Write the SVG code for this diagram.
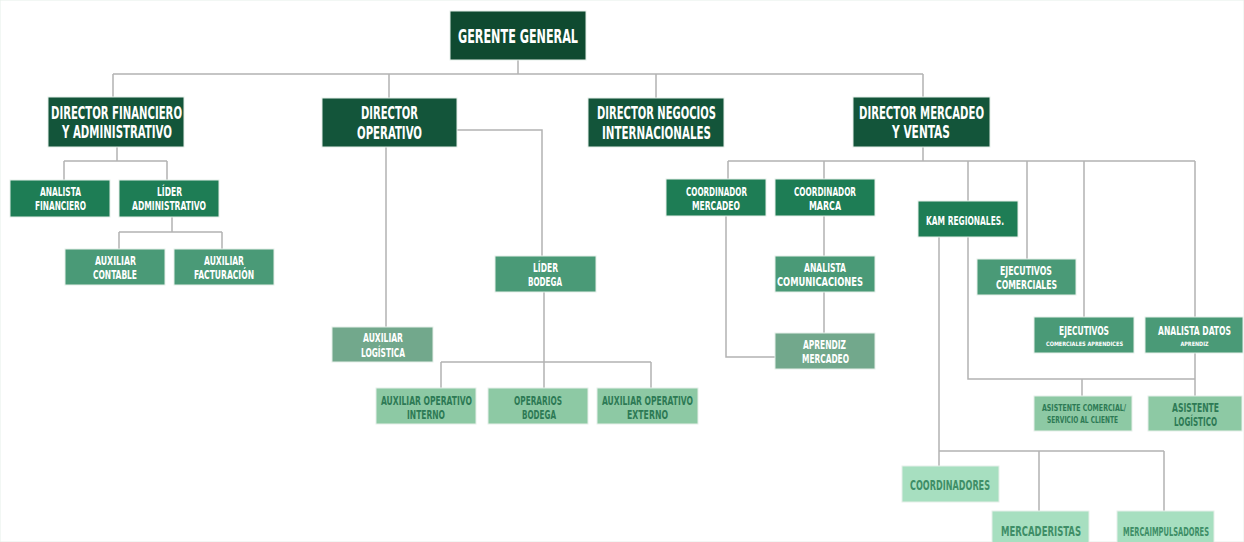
<svg xmlns="http://www.w3.org/2000/svg" width="1244" height="542" viewBox="0 0 1244 542">
<style>
text{font-family:"DejaVu Sans Condensed","DejaVu Sans","Liberation Sans",sans-serif;font-weight:bold;font-stretch:condensed;text-anchor:middle}
rect{stroke:#e6efe9;stroke-width:1}
.g0{fill:#0f4a30}.g1{fill:#13553a}.g2{fill:#1e7d55}.g3{fill:#4a9a77}.g4{fill:#72a88c}.g5{fill:#8dc9a4}.g6{fill:#a7dfc0}
.tw{fill:#ffffff}.t5{fill:#2d7a55}.t6{fill:#3e8e67}
.f19{font-size:19.5px}.f18{font-size:18px}.f13{font-size:13px}.f14{font-size:14.5px}.f135{font-size:13px}.f6{font-size:6px}.f10{font-size:9.5px}.f11{font-size:11.5px}
#connectors path{fill:none;stroke:#b3b3b3;stroke-width:1.5}
</style>
<rect x="0" y="0" width="1244" height="542" fill="#ffffff" stroke="none"/>
<g id="connectors">
<path d="M518,60 V74 M113,74 H923 M113,74 V97 M389,74 V98 M656,74 V98 M923,74 V97"/>
<path d="M117,147 V161 M64,161 H167 M64,161 V180 M167,161 V180"/>
<path d="M172,217 V232 M119,232 H222 M119,232 V249 M222,232 V249"/>
<path d="M386,147 V327 M457,130 H542 V256"/>
<path d="M544,292 V388 M441,362 H651 M441,362 V388 M651,362 V388"/>
<path d="M923,147 V161 M728,161 H1195 M728,161 V179 M824,161 V179 M968,161 V201 M1027,161 V259 M1084,161 V317 M1195,161 V317"/>
<path d="M726,216 V357 H775 M824,216 V256 M824,292 V333"/>
<path d="M968,237 V379 H1195 M1082,379 V396 M1195,353 V396"/>
<path d="M939,237 V451 H1164 M939,451 V466 M1039,451 V511 M1164,451 V511"/>
</g>
<g id="gerente"><rect class="g0" x="450" y="11" width="136" height="49"/><text class="tw f19" x="518" y="43" textLength="120" lengthAdjust="spacingAndGlyphs">GERENTE GENERAL</text></g>
<g id="dir-fin"><rect class="g1" x="48" y="97" width="136" height="50"/><text class="tw f18" x="116.5" y="119" textLength="131" lengthAdjust="spacingAndGlyphs">DIRECTOR FINANCIERO</text><text class="tw f18" x="117" y="138" textLength="110" lengthAdjust="spacingAndGlyphs">Y ADMINISTRATIVO</text></g>
<g id="dir-op"><rect class="g1" x="322" y="98" width="135" height="49"/><text class="tw f18" x="389.5" y="119" textLength="57" lengthAdjust="spacingAndGlyphs">DIRECTOR</text><text class="tw f18" x="389.5" y="139" textLength="65" lengthAdjust="spacingAndGlyphs">OPERATIVO</text></g>
<g id="dir-neg"><rect class="g1" x="588" y="98" width="136" height="49"/><text class="tw f18" x="656.5" y="119" textLength="119" lengthAdjust="spacingAndGlyphs">DIRECTOR NEGOCIOS</text><text class="tw f18" x="656.5" y="139" textLength="109" lengthAdjust="spacingAndGlyphs">INTERNACIONALES</text></g>
<g id="dir-merc"><rect class="g1" x="853" y="97" width="137" height="50"/><text class="tw f18" x="921.5" y="119" textLength="125" lengthAdjust="spacingAndGlyphs">DIRECTOR MERCADEO</text><text class="tw f18" x="921" y="138" textLength="58" lengthAdjust="spacingAndGlyphs">Y VENTAS</text></g>
<g id="analista-fin"><rect class="g2" x="10" y="180" width="100" height="37"/><text class="tw f13" x="60.5" y="196" textLength="41" lengthAdjust="spacingAndGlyphs">ANALISTA</text><text class="tw f13" x="60.5" y="210" textLength="51" lengthAdjust="spacingAndGlyphs">FINANCIERO</text></g>
<g id="lider-admin"><rect class="g2" x="119" y="180" width="100" height="37"/><text class="tw f13" x="169.5" y="196" textLength="25" lengthAdjust="spacingAndGlyphs">LÍDER</text><text class="tw f13" x="169" y="210" textLength="74" lengthAdjust="spacingAndGlyphs">ADMINISTRATIVO</text></g>
<g id="aux-contable"><rect class="g3" x="65" y="249" width="100" height="36"/><text class="tw f13" x="115.5" y="265" textLength="41" lengthAdjust="spacingAndGlyphs">AUXILIAR</text><text class="tw f13" x="115" y="279" textLength="44" lengthAdjust="spacingAndGlyphs">CONTABLE</text></g>
<g id="aux-fact"><rect class="g3" x="174" y="249" width="100" height="36"/><text class="tw f13" x="224" y="265" textLength="40" lengthAdjust="spacingAndGlyphs">AUXILIAR</text><text class="tw f13" x="224" y="279" textLength="60" lengthAdjust="spacingAndGlyphs">FACTURACIÓN</text></g>
<g id="lider-bodega"><rect class="g3" x="495" y="256" width="101" height="36"/><text class="tw f13" x="545.5" y="272" textLength="25" lengthAdjust="spacingAndGlyphs">LÍDER</text><text class="tw f13" x="545" y="286" textLength="34" lengthAdjust="spacingAndGlyphs">BODEGA</text></g>
<g id="aux-log"><rect class="g4" x="332" y="327" width="101" height="35"/><text class="tw f13" x="383" y="342" textLength="40" lengthAdjust="spacingAndGlyphs">AUXILIAR</text><text class="tw f13" x="383" y="357" textLength="44" lengthAdjust="spacingAndGlyphs">LOGÍSTICA</text></g>
<g id="aux-op-int"><rect class="g5" x="376" y="388" width="100" height="36"/><text class="t5 f13" x="426.5" y="405" textLength="91" lengthAdjust="spacingAndGlyphs">AUXILIAR OPERATIVO</text><text class="t5 f13" x="426" y="419" textLength="38" lengthAdjust="spacingAndGlyphs">INTERNO</text></g>
<g id="operarios"><rect class="g5" x="488" y="388" width="100" height="36"/><text class="t5 f13" x="538" y="405" textLength="48" lengthAdjust="spacingAndGlyphs">OPERARIOS</text><text class="t5 f13" x="539" y="419" textLength="34" lengthAdjust="spacingAndGlyphs">BODEGA</text></g>
<g id="aux-op-ext"><rect class="g5" x="597" y="388" width="101" height="36"/><text class="t5 f13" x="647.5" y="405" textLength="91" lengthAdjust="spacingAndGlyphs">AUXILIAR OPERATIVO</text><text class="t5 f13" x="647.5" y="419" textLength="41" lengthAdjust="spacingAndGlyphs">EXTERNO</text></g>
<g id="coord-merc"><rect class="g2" x="666" y="179" width="100" height="37"/><text class="tw f13" x="716.5" y="196" textLength="61" lengthAdjust="spacingAndGlyphs">COORDINADOR</text><text class="tw f13" x="716" y="210" textLength="48" lengthAdjust="spacingAndGlyphs">MERCADEO</text></g>
<g id="coord-marca"><rect class="g2" x="775" y="179" width="100" height="37"/><text class="tw f13" x="825" y="196" textLength="62" lengthAdjust="spacingAndGlyphs">COORDINADOR</text><text class="tw f13" x="825" y="210" textLength="32" lengthAdjust="spacingAndGlyphs">MARCA</text></g>
<g id="analista-com"><rect class="g3" x="775" y="256" width="100" height="36"/><text class="tw f13" x="825" y="272" textLength="42" lengthAdjust="spacingAndGlyphs">ANALISTA</text><text class="tw f13" x="820" y="286" textLength="86" lengthAdjust="spacingAndGlyphs">COMUNICACIONES</text></g>
<g id="aprendiz-merc"><rect class="g4" x="775" y="333" width="100" height="36"/><text class="tw f13" x="824.5" y="349" textLength="43" lengthAdjust="spacingAndGlyphs">APRENDIZ</text><text class="tw f13" x="825.5" y="363" textLength="47" lengthAdjust="spacingAndGlyphs">MERCADEO</text></g>
<g id="kam"><rect class="g2" x="918" y="201" width="100" height="36"/><text class="tw f13" x="965" y="225" textLength="78" lengthAdjust="spacingAndGlyphs">KAM REGIONALES.</text></g>
<g id="ejec-com"><rect class="g3" x="977" y="259" width="99" height="36"/><text class="tw f13" x="1026" y="275" textLength="52" lengthAdjust="spacingAndGlyphs">EJECUTIVOS</text><text class="tw f13" x="1026.5" y="289" textLength="61" lengthAdjust="spacingAndGlyphs">COMERCIALES</text></g>
<g id="ejec-apr"><rect class="g3" x="1034" y="317" width="100" height="36"/><text class="tw f13" x="1084" y="335" textLength="50" lengthAdjust="spacingAndGlyphs">EJECUTIVOS</text><text class="tw f6" x="1084.5" y="346" textLength="77" lengthAdjust="spacingAndGlyphs">COMERCIALES APRENDICES</text></g>
<g id="analista-datos"><rect class="g3" x="1145" y="317" width="98" height="36"/><text class="tw f13" x="1194.5" y="335" textLength="73" lengthAdjust="spacingAndGlyphs">ANALISTA DATOS</text><text class="tw f6" x="1194.5" y="346" textLength="28" lengthAdjust="spacingAndGlyphs">APRENDIZ</text></g>
<g id="asist-com"><rect class="g5" x="1034" y="396" width="98" height="35"/><text class="t5 f10" x="1084" y="411" textLength="84" lengthAdjust="spacingAndGlyphs">ASISTENTE COMERCIAL/</text><text class="t5 f10" x="1082.5" y="423" textLength="71" lengthAdjust="spacingAndGlyphs">SERVICIO AL CLIENTE</text></g>
<g id="asist-log"><rect class="g5" x="1148" y="396" width="94" height="35"/><text class="t5 f135" x="1195.5" y="412" textLength="47" lengthAdjust="spacingAndGlyphs">ASISTENTE</text><text class="t5 f135" x="1195.5" y="426" textLength="43" lengthAdjust="spacingAndGlyphs">LOGÍSTICO</text></g>
<g id="coordinadores"><rect class="g6" x="902" y="466" width="97" height="36"/><text class="t6 f14" x="950" y="490" textLength="80" lengthAdjust="spacingAndGlyphs">COORDINADORES</text></g>
<g id="mercaderistas"><rect class="g6" x="992" y="511" width="97" height="36"/><text class="t6 f14" x="1041" y="536" textLength="80" lengthAdjust="spacingAndGlyphs">MERCADERISTAS</text></g>
<g id="mercaimpulsadores"><rect class="g6" x="1117" y="511" width="97" height="36"/><text class="t6 f11" x="1166" y="536" textLength="86" lengthAdjust="spacingAndGlyphs">MERCAIMPULSADORES</text></g>
</svg>
